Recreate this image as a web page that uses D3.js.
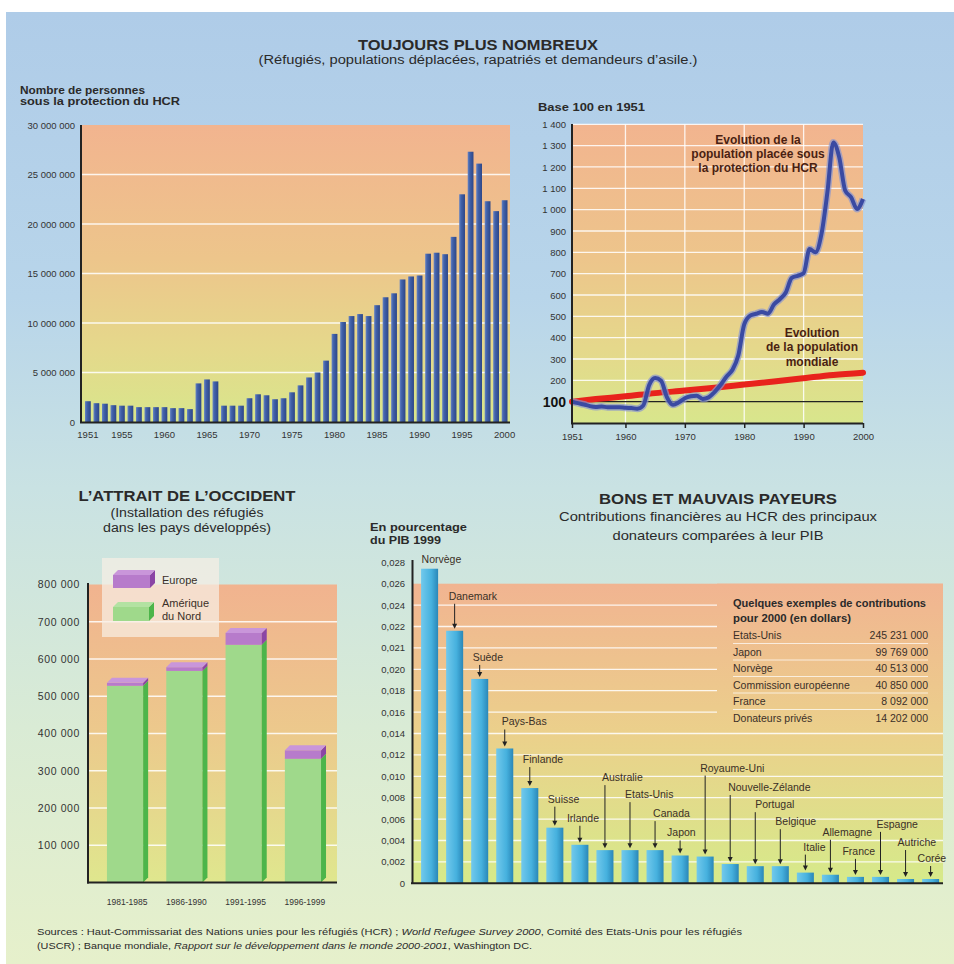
<!DOCTYPE html>
<html><head><meta charset="utf-8">
<script src="https://cdn.jsdelivr.net/npm/d3@7"></script>
<style>
body{margin:0;background:#fff}
svg{display:block}
text{font-family:"Liberation Sans",Arial,Helvetica,sans-serif;fill:#2a2a2a}
</style>
</head><body>
<svg id="c" width="954" height="964"></svg>
<script>
// ---------- DATA ----------
const years = [1951,1952,1953,1954,1955,1956,1957,1958,1959,1960,1961,1962,1963,1964,1965,1966,1967,1968,1969,1970,
  1971,1972,1973,1974,1975,1976,1977,1978,1979,1980,1981,1982,1983,1984,1985,1986,1987,1988,1989,1990,
  1991,1992,1993,1994,1995,1996,1997,1998,1999,2000];
const hcrPersons = [2100000,1900000,1850000,1700000,1650000,1650000,1500000,1500000,1500000,1500000,
  1400000,1400000,1300000,3900000,4300000,4100000,1650000,1650000,1650000,2400000,
  2800000,2700000,2300000,2400000,3000000,3700000,4500000,5000000,6200000,8900000,
  10100000,10700000,10900000,10700000,11800000,12600000,13000000,14400000,14700000,14800000,
  17000000,17100000,16950000,18700000,23000000,27300000,26100000,22300000,21300000,22400000];
const personTicks = [0,5000000,10000000,15000000,20000000,25000000,30000000];
const yearTicks = [1951,1955,1960,1965,1970,1975,1980,1985,1990,1995,2000];

const hcrIndex = [100,93,87,79,75,77,74,74,74,71,70,67,82,178,211,198,120,85,97,116,
  125,128,113,120,145,178,217,248,316,462,503,512,520,512,555,580,612,680,690,702,
  815,800,885,1080,1315,1245,1090,1058,1003,1050];
const worldPopYears = [1951,1955,1960,1965,1970,1975,1980,1985,1990,1995,2000];
const worldPopIndex = [100,112,125,140,152,165,180,195,210,225,236];
const indexTicks = [100,200,300,400,500,600,700,800,900,1000,1100,1200,1300,1400];
const indexYearTicks = [1951,1960,1970,1980,1990,2000];

const periods = ["1981-1985","1986-1990","1991-1995","1996-1999"];
const northAmerica = [528000,568000,638000,332000];
const europe = [8000,10000,32000,23000];
const settleTicks = [100000,200000,300000,400000,500000,600000,700000,800000];

const donors = ["Norvège","Danemark","Suède","Pays-Bas","Finlande","Suisse","Irlande","Australie","Etats-Unis","Canada",
  "Japon","Royaume-Uni","Nouvelle-Zélande","Portugal","Belgique","Italie","Allemagne","France","Espagne","Autriche","Corée"];
const gdpShare = [0.0274,0.0218,0.0191,0.0126,0.0089,0.0052,0.0036,0.0031,0.0031,0.0031,
  0.0026,0.0025,0.0018,0.0016,0.0016,0.0010,0.0008,0.0006,0.0006,0.0004,0.0004];
const gdpTickValues = [0,0.002,0.004,0.006,0.008,0.010,0.012,0.014,0.016,0.018,0.020,0.021,0.022,0.024,0.026,0.028];
const gdpTickLabels = ["0","0,002","0,004","0,006","0,008","0,010","0,012","0,014","0,016","0,018","0,020","0,021","0,022","0,024","0,026","0,028"];

const contribNames = ["Etats-Unis","Japon","Norvège","Commission européenne","France","Donateurs privés"];
const contribValues = [245231000,99769000,40513000,40850000,8092000,14202000];

// label layout (pixels above bar top, horizontal offset from bar centre)
const labelLift = [10,35,22,27,29,29,27,73,56,37,23,89,77,62,45,26,43,26,53,37,21];
const labelDx = [-8,-6,-7,-3,-7,-7,-13,-3,-5,-2,-13,-5,-2,0,-5,-2,-8,-13,-4,-8,-13];

// ---------- SETUP ----------
const fr = d3.formatLocale({decimal:",",thousands:" ",grouping:[3],currency:["","$"]});
const fmtInt = fr.format(",d");
const svg = d3.select("#c");
const defs = svg.append("defs");
function grad(id, stops, opts){
  const g = defs.append("linearGradient").attr("id",id);
  if(opts && opts.user){
    g.attr("gradientUnits","userSpaceOnUse").attr("x1",0).attr("x2",0).attr("y1",opts.y1).attr("y2",opts.y2);
  } else if(opts && opts.horiz){
    g.attr("x1",0).attr("x2",1).attr("y1",0).attr("y2",0);
  } else {
    g.attr("x1",0).attr("x2",0).attr("y1",0).attr("y2",1);
  }
  stops.forEach(([o,c])=>g.append("stop").attr("offset",o).attr("stop-color",c));
}
grad("bg",[[0,"#afcce8"],[0.3,"#b8d5ea"],[0.5,"#c9e2e3"],[0.75,"#d9ebd5"],[1,"#e6f0cb"]]);
grad("pTL",[[0,"#f2b48f"],[0.45,"#edc58b"],[0.75,"#e5d88b"],[1,"#d8e68c"]]);
grad("pTR",[[0,"#f2b48f"],[0.45,"#edc58b"],[0.75,"#e5d88b"],[1,"#d8e68c"]]);
grad("pBL",[[0,"#f1b38f"],[0.5,"#ecc98c"],[1,"#dfe78e"]]);
grad("pBR",[[0,"#f1b491"],[0.5,"#ebd08b"],[1,"#d6ea8a"]],{user:true,y1:584,y2:883});
grad("barBlue",[[0,"#6583c4"],[0.35,"#4161a9"],[1,"#2d4687"]],{horiz:true});
grad("barCyan",[[0,"#72c9ec"],[0.6,"#46b1de"],[1,"#2a87b8"]],{horiz:true});

svg.append("rect").attr("x",6).attr("y",12).attr("width",948).attr("height",952).attr("fill","url(#bg)");

function T(x,y,s,o={}){
  const t = svg.append("text").attr("x",x).attr("y",y).text(s);
  if(o.size) t.attr("font-size",o.size);
  if(o.bold) t.attr("font-weight","bold");
  if(o.anchor) t.attr("text-anchor",o.anchor);
  if(o.fill) t.style("fill",o.fill);
  if(o.len) t.attr("textLength",o.len).attr("lengthAdjust","spacingAndGlyphs");
  return t;
}

// ---------- HEADER ----------
T(478,50,"TOUJOURS PLUS NOMBREUX",{size:15,bold:true,anchor:"middle",len:240});
T(478,64,"(Réfugiés, populations déplacées, rapatriés et demandeurs d’asile.)",{size:12,anchor:"middle",len:439});

// ---------- TOP LEFT: bars ----------
T(20,93.5,"Nombre de personnes",{size:10.5,bold:true,len:125});
T(20,104.5,"sous la protection du HCR",{size:10.5,bold:true,len:160});
const xTL = d3.scaleBand().domain(years).range([85,507.5]).paddingInner(0.32);
const yTL = d3.scaleLinear().domain([0,30000000]).range([422,125]);
svg.append("rect").attr("x",82).attr("y",yTL(30000000)).attr("width",428).attr("height",yTL(0)-yTL(30000000)).attr("fill","url(#pTL)");
svg.append("g").selectAll("line").data(personTicks.filter(d=>d>0&&d<30000000)).join("line")
  .attr("x1",82).attr("x2",510).attr("y1",d=>yTL(d)).attr("y2",d=>yTL(d))
  .attr("stroke","#fff").attr("stroke-opacity",0.85).attr("stroke-width",1.3);
svg.append("g").selectAll("rect").data(years).join("rect")
  .attr("x",d=>xTL(d)).attr("width",xTL.bandwidth())
  .attr("y",(d,i)=>yTL(hcrPersons[i])).attr("height",(d,i)=>yTL(0)-yTL(hcrPersons[i]))
  .attr("fill","url(#barBlue)");
const axTL = svg.append("g").attr("transform","translate(81,0)")
  .call(d3.axisLeft(yTL).tickValues(personTicks).tickFormat(fmtInt).tickSize(0).tickPadding(6));
axTL.select(".domain").remove();
axTL.selectAll("text").attr("font-size",9.5).style("fill","#333").attr("font-family",null);
svg.append("line").attr("x1",81).attr("x2",81).attr("y1",125).attr("y2",423).attr("stroke","#222").attr("stroke-width",2);
svg.append("line").attr("x1",80).attr("x2",510).attr("y1",422.5).attr("y2",422.5).attr("stroke","#222").attr("stroke-width",2);
const axTLb = svg.append("g").attr("transform","translate(0,423)")
  .call(d3.axisBottom(xTL).tickValues(yearTicks).tickSize(0).tickPadding(8));
axTLb.select(".domain").remove();
axTLb.selectAll("text").attr("font-size",9.5).style("fill","#333").attr("font-family",null);

// ---------- TOP RIGHT: lines ----------
T(538,111,"Base 100 en 1951",{size:11,bold:true,len:107});
const xTR = d3.scaleLinear().domain([1951,2000]).range([572,863]);
const yTR = d3.scaleLinear().domain([0,1400]).range([423,124.3]);
svg.append("rect").attr("x",573).attr("y",yTR(1400)).attr("width",290).attr("height",yTR(0)-yTR(1400)).attr("fill","url(#pTR)");
svg.append("g").selectAll("line").data(indexTicks.filter(d=>d>100)).join("line")
  .attr("x1",573).attr("x2",863).attr("y1",d=>yTR(d)).attr("y2",d=>yTR(d))
  .attr("stroke","#fff").attr("stroke-opacity",0.85).attr("stroke-width",1.3);
svg.append("g").selectAll("line").data(indexYearTicks.filter(d=>d>1951&&d<2000)).join("line")
  .attr("x1",d=>xTR(d)).attr("x2",d=>xTR(d)).attr("y1",yTR(1400)).attr("y2",yTR(0))
  .attr("stroke","#fff").attr("stroke-opacity",0.85).attr("stroke-width",1.3);
svg.append("line").attr("x1",573).attr("x2",863).attr("y1",yTR(100)).attr("y2",yTR(100)).attr("stroke","#222").attr("stroke-width",1.2);
const lineW = d3.line().x((d,i)=>xTR(worldPopYears[i])).y(d=>yTR(d)).curve(d3.curveMonotoneX);
svg.append("path").attr("d",lineW(worldPopIndex)).attr("fill","none").attr("stroke","#e8231c").attr("stroke-width",6).attr("stroke-linecap","round");
const lineH = d3.line().x((d,i)=>xTR(years[i])).y(d=>yTR(d)).curve(d3.curveMonotoneX);
svg.append("path").attr("d",lineH(hcrIndex)).attr("fill","none").attr("stroke","#8a96cf").attr("stroke-opacity",0.7).attr("stroke-width",7).attr("stroke-linejoin","round");
svg.append("path").attr("d",lineH(hcrIndex)).attr("fill","none").attr("stroke","#3a4aa2").attr("stroke-width",4).attr("stroke-linejoin","round");
const axTR = svg.append("g").attr("transform","translate(572,0)")
  .call(d3.axisLeft(yTR).tickValues(indexTicks).tickFormat(fmtInt).tickSize(0).tickPadding(6));
axTR.select(".domain").remove();
axTR.selectAll("text").attr("font-size",9.5).style("fill","#333").attr("font-family",null);
axTR.selectAll(".tick").filter(d=>d===100).select("text").attr("font-size",14).attr("font-weight","bold").style("fill","#111");
svg.append("line").attr("x1",572).attr("x2",572).attr("y1",124).attr("y2",424).attr("stroke","#222").attr("stroke-width",2);
svg.append("line").attr("x1",571).attr("x2",863).attr("y1",423.5).attr("y2",423.5).attr("stroke","#222").attr("stroke-width",2);
const axTRb = svg.append("g").attr("transform","translate(0,423)")
  .call(d3.axisBottom(xTR).tickValues(indexYearTicks).tickFormat(d3.format("d")).tickSize(5).tickPadding(5));
axTRb.select(".domain").remove();
axTRb.selectAll("line").attr("stroke","#222").attr("stroke-width",1.5);
axTRb.selectAll("text").attr("font-size",9.5).style("fill","#333").attr("font-family",null);
const annC = "#4a1f12";
T(758,144,"Evolution de la",{size:12,bold:true,anchor:"middle",fill:annC});
T(758,158,"population placée sous",{size:12,bold:true,anchor:"middle",fill:annC});
T(758,171.5,"la protection du HCR",{size:12,bold:true,anchor:"middle",fill:annC});
T(812,337,"Evolution",{size:12,bold:true,anchor:"middle",fill:annC});
T(812,351,"de la population",{size:12,bold:true,anchor:"middle",fill:annC});
T(812,365.5,"mondiale",{size:12,bold:true,anchor:"middle",fill:annC});

// ---------- BOTTOM LEFT: stacked 3D bars ----------
T(187,501,"L’ATTRAIT DE L’OCCIDENT",{size:15,bold:true,anchor:"middle",len:217});
T(187,517,"(Installation des réfugiés",{size:12.5,anchor:"middle",len:153});
T(187,532,"dans les pays développés)",{size:12.5,anchor:"middle",len:168});
const xBL = d3.scaleBand().domain(periods).range([88,340]).paddingInner(0.39).paddingOuter(0.32);
const yBL = d3.scaleLinear().domain([0,800000]).range([882.5,584.5]);
svg.append("rect").attr("x",89).attr("y",yBL(800000)).attr("width",248).attr("height",yBL(0)-yBL(800000)).attr("fill","url(#pBL)");
svg.append("g").selectAll("line").data(settleTicks.filter(d=>d<800000)).join("line")
  .attr("x1",89).attr("x2",337).attr("y1",d=>yBL(d)).attr("y2",d=>yBL(d))
  .attr("stroke","#fff").attr("stroke-opacity",0.85).attr("stroke-width",1.3);
// legend box
svg.append("rect").attr("x",102).attr("y",558).attr("width",117).attr("height",79).attr("fill","#f6efe4").attr("fill-opacity",0.72);
const dx3 = 5, dy3 = 5;
function block(g,x,w,yTop,yBot,front,side){
  g.append("rect").attr("x",x).attr("y",yTop).attr("width",w).attr("height",yBot-yTop).attr("fill",front);
  g.append("polygon").attr("points",[[x+w,yTop],[x+w+dx3,yTop-dy3],[x+w+dx3,yBot-dy3],[x+w,yBot]].join(" ")).attr("fill",side);
}
function topFace(g,x,w,y,c){
  g.append("polygon").attr("points",[[x,y],[x+dx3,y-dy3],[x+w+dx3,y-dy3],[x+w,y]].join(" ")).attr("fill",c);
}
const gBL = svg.append("g");
periods.forEach((p,i)=>{
  const x = xBL(p), w = xBL.bandwidth();
  const yNA = yBL(northAmerica[i]), yAll = yBL(northAmerica[i]+europe[i]);
  block(gBL,x,w,yNA,yBL(0),"#9fd98b","#4db54a");
  block(gBL,x,w,yAll,yNA,"#b77bcb","#8b45a5");
  topFace(gBL,x,w,yAll,"#c996da");
});
// legend swatches
const gL = svg.append("g");
block(gL,113,37,575,588,"#b77bcb","#8b45a5"); topFace(gL,113,37,575,"#c996da");
block(gL,113,36,607,621,"#9fd98b","#4db54a"); topFace(gL,113,36,607,"#b3e2a2");
T(162,584,"Europe",{size:11,fill:"#3a2f28"});
T(162,607,"Amérique",{size:11,fill:"#3a2f28"});
T(162,619.5,"du Nord",{size:11,fill:"#3a2f28"});
const axBL = svg.append("g").attr("transform","translate(88,0)")
  .call(d3.axisLeft(yBL).tickValues(settleTicks).tickFormat(fmtInt).tickSize(0).tickPadding(8));
axBL.select(".domain").remove();
axBL.selectAll("text").attr("font-size",10.5).style("fill","#333").attr("font-family",null).attr("letter-spacing",0.6);
svg.append("line").attr("x1",88).attr("x2",88).attr("y1",583).attr("y2",883.5).attr("stroke","#222").attr("stroke-width",2);
svg.append("line").attr("x1",87).attr("x2",337).attr("y1",882.5).attr("y2",882.5).attr("stroke","#222").attr("stroke-width",2);
const axBLb = svg.append("g").attr("transform","translate(2,883)")
  .call(d3.axisBottom(xBL).tickSize(0).tickPadding(16));
axBLb.select(".domain").remove();
axBLb.selectAll("text").attr("font-size",8.5).style("fill","#333").attr("font-family",null);

// ---------- BOTTOM RIGHT: donors ----------
T(718,504,"BONS ET MAUVAIS PAYEURS",{size:15,bold:true,anchor:"middle",len:238});
T(718,521,"Contributions financières au HCR des principaux",{size:13,anchor:"middle",len:318});
T(718,540,"donateurs comparées à leur PIB",{size:13,anchor:"middle",len:211});
T(370,531,"En pourcentage",{size:11,bold:true,len:97});
T(370,543.5,"du PIB 1999",{size:11,bold:true,len:71});
const xBR = d3.scaleBand().domain(donors).range([412.3,947.9]).paddingInner(0.32).paddingOuter(0.35);
const stepY = (883.3-562.3)/(gdpTickValues.length-1);
const yBR = d3.scaleLinear().domain(gdpTickValues).range(gdpTickValues.map((d,i)=>883.3-i*stepY));
const panelTop = yBR(0.026);
svg.append("rect").attr("x",413).attr("y",panelTop).attr("width",530).attr("height",yBR(0)-panelTop).attr("fill","url(#pBR)");
svg.append("g").selectAll("line").data(gdpTickValues.filter(d=>d>0&&d<0.026)).join("line")
  .attr("x1",413).attr("x2",943).attr("y1",d=>yBR(d)).attr("y2",d=>yBR(d))
  .attr("stroke","#fff").attr("stroke-opacity",0.85).attr("stroke-width",1.3);
// table area covers gridlines
svg.append("rect").attr("x",717).attr("y",panelTop).attr("width",226).attr("height",143).attr("fill","url(#pBR)");
T(733,607,"Quelques exemples de contributions",{size:10.5,bold:true,len:193});
T(733,621.5,"pour 2000 (en dollars)",{size:10.5,bold:true,len:118});
const rowY = d3.scaleBand().domain(contribNames).range([627,726]);
const gTab = svg.append("g");
contribNames.forEach((n,i)=>{
  const y = rowY(n);
  gTab.append("text").attr("x",733).attr("y",y+12).attr("font-size",10.5).style("fill","#3a2f28").text(n);
  gTab.append("text").attr("x",928).attr("y",y+12).attr("text-anchor","end").attr("font-size",10.5).style("fill","#3a2f28").text(fmtInt(contribValues[i]));
  if(i<contribNames.length-1)
    gTab.append("line").attr("x1",733).attr("x2",928).attr("y1",y+rowY.bandwidth()).attr("y2",y+rowY.bandwidth())
      .attr("stroke","#fff").attr("stroke-opacity",0.7).attr("stroke-width",1);
});
svg.append("g").selectAll("rect").data(donors).join("rect")
  .attr("x",d=>xBR(d)).attr("width",xBR.bandwidth())
  .attr("y",(d,i)=>yBR(gdpShare[i])).attr("height",(d,i)=>yBR(0)-yBR(gdpShare[i]))
  .attr("fill","url(#barCyan)");
// labels + arrows
const gLab = svg.append("g");
donors.forEach((d,i)=>{
  const cx = xBR(d)+xBR.bandwidth()/2;
  const top = yBR(gdpShare[i]);
  const ly = top - labelLift[i];
  gLab.append("text").attr("x",cx+labelDx[i]).attr("y",ly+4).attr("font-size",10.5).style("fill","#3b3026").text(d);
  if(i>0){
    const y1 = ly+8, y2 = top-2;
    gLab.append("line").attr("x1",cx).attr("x2",cx).attr("y1",y1).attr("y2",y2-4).attr("stroke","#222").attr("stroke-width",1);
    gLab.append("polygon").attr("points",[[cx-2.5,y2-5],[cx+2.5,y2-5],[cx,y2]].join(" ")).attr("fill","#222");
  }
});
const axBR = svg.append("g").attr("transform","translate(412,0)")
  .call(d3.axisLeft(yBR).tickValues(gdpTickValues).tickFormat((d,i)=>gdpTickLabels[i]).tickSize(0).tickPadding(7));
axBR.select(".domain").remove();
axBR.selectAll("text").attr("font-size",9.5).style("fill","#333").attr("font-family",null);
svg.append("line").attr("x1",412.5).attr("x2",412.5).attr("y1",560).attr("y2",884).attr("stroke","#222").attr("stroke-width",2);
svg.append("line").attr("x1",411).attr("x2",943).attr("y1",883.3).attr("y2",883.3).attr("stroke","#222").attr("stroke-width",2);

// ---------- SOURCES ----------
const s1 = svg.append("text").attr("x",37).attr("y",935).attr("font-size",9.3).attr("textLength",705).attr("lengthAdjust","spacingAndGlyphs");
s1.append("tspan").text("Sources : Haut-Commissariat des Nations unies pour les réfugiés (HCR)  ; ");
s1.append("tspan").attr("font-style","italic").text("World Refugee Survey 2000");
s1.append("tspan").text(", Comité des Etats-Unis pour les réfugiés");
const s2 = svg.append("text").attr("x",37).attr("y",949).attr("font-size",9.3).attr("textLength",495).attr("lengthAdjust","spacingAndGlyphs");
s2.append("tspan").text("(USCR) ; Banque mondiale, ");
s2.append("tspan").attr("font-style","italic").text("Rapport sur le développement dans le monde 2000-2001");
s2.append("tspan").text(", Washington DC.");
</script>
</body></html>
